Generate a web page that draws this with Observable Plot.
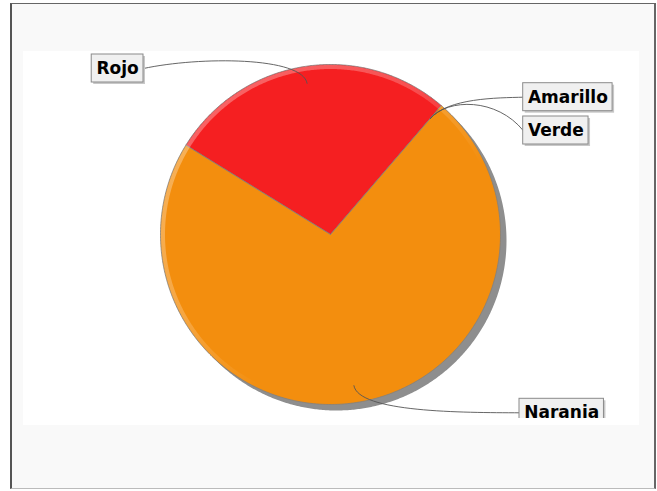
<!DOCTYPE html>
<html><head><meta charset="utf-8">
<script src="https://cdn.jsdelivr.net/npm/d3@7"></script>
<script src="https://cdn.jsdelivr.net/npm/@observablehq/plot@0.6"></script>
<style>
html,body{margin:0;padding:0;background:#fff;}
#page{position:relative;width:657px;height:491px;overflow:hidden;}
#frame{position:absolute;left:10px;top:3px;width:642px;height:484px;background:#f9f9f9;border-left:2px solid #555;border-top:1.5px solid #666;border-right:2px solid #666;border-bottom:1px solid #bbb;box-sizing:content-box;}
#plotbg{position:absolute;left:23px;top:51px;width:616px;height:374px;background:#fff;}
#chart{position:absolute;left:23px;top:51px;width:616px;height:367px;overflow:hidden;}
#chart svg{background:transparent;overflow:hidden;}
</style></head><body>
<div id="page"><div id="frame"></div><div id="plotbg"></div><div id="chart"></div></div>
<script>
// ---- data ----
const categories = ["Rojo", "Amarillo", "Verde", "Naranja"];
const values = [27.5, 0, 0, 72.5];
const colors = ["#f51f21", "#f2e41c", "#33b533", "#f38e0e"];

// ---- layout (page pixels) ----
const CX = 330, CY = 234, R = 170;         // pie centre and radius
const OX = 23, OY = 51, W = 616, H = 367;   // plot box on the page
const START = -58.3 * Math.PI / 180;        // first slice start angle
const labelLayout = {
  Rojo:     {side: "left",  x: 143,   y: 68},
  Amarillo: {side: "right", x: 522.7, y: 96.7},
  Verde:    {side: "right", x: 522.7, y: 130},
  Naranja:  {side: "right", x: 519,   y: 412.3}
};
const ux = px => (px - CX) / R, uy = py => (py - CY) / R;

// ---- pie geometry from data ----
const arcs = d3.pie().sort(null).startAngle(START).endAngle(START + 2 * Math.PI)
  .value((d, i) => values[i])(categories);

function slicePoints(a0, a1, r = 1) {
  const pts = [{x: 0, y: 0}];
  const n = Math.max(2, Math.ceil((a1 - a0) / (Math.PI / 360)));
  for (let k = 0; k <= n; k++) {
    const a = a0 + (a1 - a0) * k / n;
    pts.push({x: r * Math.sin(a), y: -r * Math.cos(a)});
  }
  pts.push({x: 0, y: 0});
  return pts;
}
function circlePoints(r) {
  const pts = [];
  for (let k = 0; k <= 720; k++) {
    const a = 2 * Math.PI * k / 720;
    pts.push({x: r * Math.sin(a), y: -r * Math.cos(a)});
  }
  return pts;
}
const polar = (a, r) => ({x: r * Math.sin(a), y: -r * Math.cos(a)});

// label text widths
const ctx = document.createElement("canvas").getContext("2d");
ctx.font = "bold 17px 'DejaVu Sans'";

const labels = arcs.map((arc, i) => {
  const name = categories[i];
  const L = labelLayout[name];
  const tw = ctx.measureText(name).width;
  const bw = (tw + 9.5) / R, bh = 14 / R;
  const edgeX = ux(L.x), cy = uy(L.y);
  const x1 = L.side === "left" ? edgeX - bw : edgeX;
  const x2 = L.side === "left" ? edgeX : edgeX + bw;
  const mid = (arc.startAngle + arc.endAngle) / 2;
  const S = polar(mid, 0.9), E = polar(mid, 1.06);
  const T = {x: edgeX, y: cy};
  const A = {x: T.x + (E.x - T.x) * 0.35, y: E.y};
  return {name, x1, x2, y1: cy - bh, y2: cy + bh, tx: x1 + 4.75 / R, ty: cy, link: [S, E, A, T]};
});
const linkPts = labels.flatMap(l => l.link.map(p => ({...p, name: l.name})));

// cubic bezier curve through 4 control points
function cubicCurve(context) {
  let pts = [];
  return {
    areaStart() {}, areaEnd() {},
    lineStart() { pts = []; },
    point(x, y) { pts.push([+x, +y]); },
    lineEnd() {
      if (pts.length === 4) {
        context.moveTo(pts[0][0], pts[0][1]);
        context.bezierCurveTo(pts[1][0], pts[1][1], pts[2][0], pts[2][1], pts[3][0], pts[3][1]);
      }
    }
  };
}

const marks = [];
// shadows
arcs.forEach((arc, i) => {
  if (values[i] > 0) marks.push(Plot.line(slicePoints(arc.startAngle, arc.endAngle), {
    x: "x", y: "y", fill: "#8e8e8e", stroke: "none", dx: 6, dy: 6}));
});
// slices
arcs.forEach((arc, i) => {
  if (values[i] > 0) marks.push(Plot.line(slicePoints(arc.startAngle, arc.endAngle), {
    x: "x", y: "y", fill: colors[i], stroke: "#808080", strokeWidth: 0.8, strokeLinejoin: "round"}));
});
// rim highlight
marks.push(Plot.line(circlePoints((R - 2.5) / R), {x: "x", y: "y", stroke: "url(#rimGrad)", strokeWidth: 4, fill: "none"}));
// links
marks.push(Plot.line(linkPts, {x: "x", y: "y", z: "name", curve: cubicCurve, stroke: "#555", strokeWidth: 0.9, fill: "none"}));
// label boxes
marks.push(Plot.rect(labels, {x1: "x1", x2: "x2", y1: "y1", y2: "y2", fill: "#c8c8c8", dx: 2, dy: 2}));
marks.push(Plot.rect(labels, {x1: "x1", x2: "x2", y1: "y1", y2: "y2", fill: "#f0f0f0", stroke: "#8a8a8a", strokeWidth: 1}));
marks.push(Plot.text(labels, {x: "tx", y: "ty", text: "name", textAnchor: "start",
  fontFamily: "DejaVu Sans", fontWeight: "bold", fontSize: 17, fill: "#000"}));

const svg = Plot.plot({
  width: W, height: H, margin: 0,
  x: {domain: [ux(OX), ux(OX + W)], axis: null},
  y: {domain: [uy(OY + H), uy(OY)], axis: null},
  style: {background: "transparent", overflow: "hidden"},
  marks
});
const defs = d3.select(svg).insert("defs", ":first-child");
const g = defs.append("linearGradient").attr("id", "rimGrad").attr("x1", 0).attr("y1", 0).attr("x2", 1).attr("y2", 1);
g.append("stop").attr("offset", 0).attr("stop-color", "#fff").attr("stop-opacity", 0.35);
g.append("stop").attr("offset", 0.4).attr("stop-color", "#fff").attr("stop-opacity", 0.22);
g.append("stop").attr("offset", 0.62).attr("stop-color", "#fff").attr("stop-opacity", 0);
document.getElementById("chart").appendChild(svg);
</script>
</body></html>
